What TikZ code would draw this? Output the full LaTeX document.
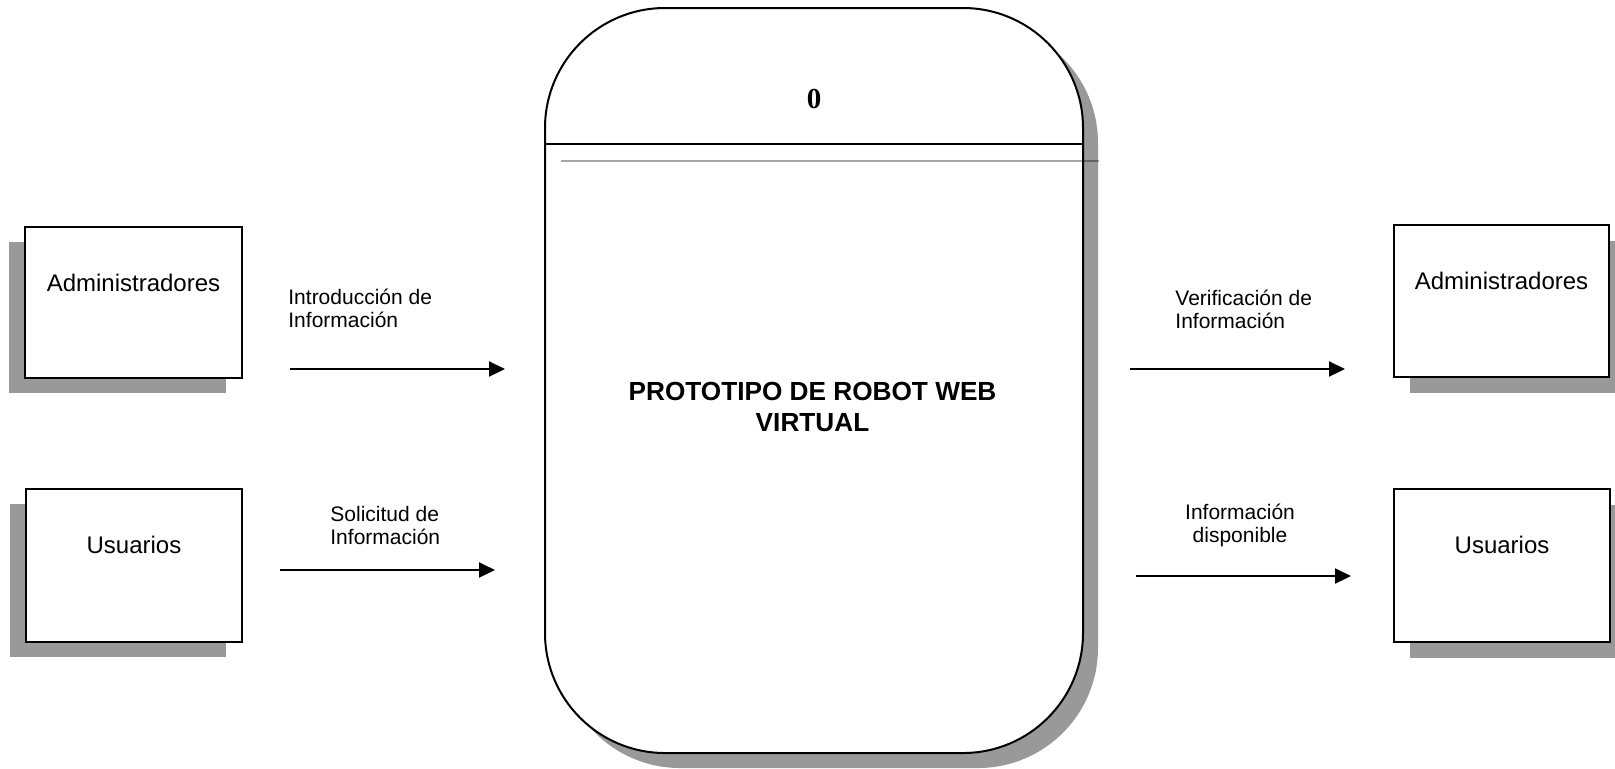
\documentclass[tikz,border=0pt]{standalone}
\usepackage{fontspec}
\setmainfont{Liberation Sans}
\newfontfamily\timesfont{Liberation Serif}
\usetikzlibrary{arrows.meta,shadows}
\definecolor{shadowgray}{gray}{0.6}
\begin{document}
\begin{tikzpicture}[x=0.5pt,y=-0.5pt,
  entity/.style={draw=black, line width=1pt, fill=white, inner sep=0pt,
    minimum width=108pt, minimum height=76.5pt},
  shadowleft/.style={general shadow={fill=shadowgray, shadow xshift=-8pt, shadow yshift=-7.5pt}},
  shadowright/.style={general shadow={fill=shadowgray, shadow xshift=8pt, shadow yshift=-8pt}},
  process/.style={draw=black, line width=1pt, fill=white, inner sep=0pt,
    rounded corners=60pt, minimum width=269pt, minimum height=372.5pt,
    general shadow={fill=shadowgray, shadow xshift=7.5pt, shadow yshift=-7.5pt}},
  entitytext/.style={font=\fontsize{12}{14}\selectfont, anchor=base, inner sep=0pt},
  flowlabel/.style={font=\fontsize{10.5}{11.5}\selectfont, inner sep=0pt},
  flow/.style={line width=1pt, -{Triangle[length=8pt,width=7.5pt]}},
]
\useasboundingbox (0,0) rectangle (1615,768);

% central process
\node[process] (proc) at (814,380.5) {};
\coordinate (divL) at (545,144);
\coordinate (divR) at (1083,144);
\draw[line width=0.75pt] (divL) -- (divR);
\coordinate (ruleL) at (561,161);
\coordinate (ruleR) at (1099,161);
\draw[line width=1.2pt, black, opacity=0.35] (ruleL) -- (ruleR);
\node[font=\timesfont\bfseries\fontsize{14.5}{16}\selectfont, anchor=base, inner sep=0pt]
  (procid) at (814,108) {0};
% the base anchor of a multi-line node sits on its last line
\node[font=\bfseries\fontsize{13.1}{15.5}\selectfont, align=center, anchor=base, inner sep=0pt]
  (procname) at (812.5,431) {PROTOTIPO DE ROBOT WEB\\VIRTUAL};

% external entities
\node[entity, shadowleft, minimum width=108.5pt, minimum height=75.5pt] (adminL) at (133.5,302.5) {};
\node[entitytext] (adminLt) at (133.5,291) {Administradores};
\node[entity, shadowleft] (userL) at (134,565.5) {};
\node[entitytext] (userLt) at (134,553) {Usuarios};
\node[entity, shadowright, minimum width=107.5pt, minimum height=76pt] (adminR) at (1501.5,301) {};
\node[entitytext] (adminRt) at (1501.5,289) {Administradores};
\node[entity, shadowright] (userR) at (1502,565.5) {};
\node[entitytext] (userRt) at (1502,553) {Usuarios};

% data flows
\coordinate (f1a) at (290,369);
\coordinate (f1b) at (505,369);
\draw[flow] (f1a) -- (f1b);
\node[flowlabel, align=left, anchor=base west] (f1t) at (288,327) {Introducción de\\Información};

\coordinate (f2a) at (280,570);
\coordinate (f2b) at (495,570);
\draw[flow] (f2a) -- (f2b);
\node[flowlabel, align=left, anchor=base west] (f2t) at (330,544) {Solicitud de\\Información};

\coordinate (f3a) at (1130,369);
\coordinate (f3b) at (1345,369);
\draw[flow] (f3a) -- (f3b);
\node[flowlabel, align=left, anchor=base west] (f3t) at (1175,328) {Verificación de\\Información};

\coordinate (f4a) at (1136,576);
\coordinate (f4b) at (1351,576);
\draw[flow] (f4a) -- (f4b);
\node[flowlabel, align=center, anchor=base] (f4t) at (1240,542) {Información\\disponible};
\end{tikzpicture}
\end{document}
